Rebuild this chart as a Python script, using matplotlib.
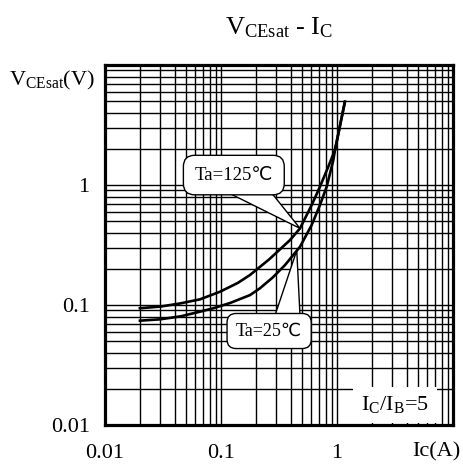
import numpy as np
import matplotlib
matplotlib.use('Agg')
import matplotlib.pyplot as plt
from matplotlib.ticker import FixedLocator, NullFormatter, LogLocator

plt.rcParams['font.family'] = ['Liberation Serif', 'DejaVu Sans']
plt.rcParams['mathtext.fontset'] = 'custom'
plt.rcParams['mathtext.rm'] = 'Liberation Serif'

# Ta = 125 C
ic_125 = [0.02, 0.03, 0.0443, 0.066, 0.098, 0.14, 0.178, 0.26, 0.394, 0.48, 0.605, 0.713, 0.841, 0.961, 1.17]
v_125 = [0.094, 0.097, 0.103, 0.1115, 0.129, 0.153, 0.178, 0.24, 0.348, 0.435, 0.681, 0.968, 1.42, 1.96, 4.94]

# Ta = 25 C
ic_25 = [0.02, 0.03, 0.045, 0.066, 0.086, 0.12, 0.178, 0.217, 0.28, 0.356, 0.48, 0.605, 0.713, 0.815, 0.929, 0.961, 1.17]
v_25 = [0.074, 0.076, 0.0805, 0.088, 0.094, 0.104, 0.121, 0.138, 0.17, 0.215, 0.306, 0.464, 0.681, 0.968, 1.61, 1.96, 4.94]

major_ticks = [0.01, 0.1, 1, 10]
major_labels = ['0.01', '0.1', '1', '']

fig = plt.figure(figsize=(4.63, 4.75), dpi=100)
ax = fig.add_axes([105/463, 1-425/475, 348/463, 360/475])

ax.set_xscale('log')
ax.set_yscale('log')
ax.set_xlim(0.01, 10)
ax.set_ylim(0.01, 10)

for axis in (ax.xaxis, ax.yaxis):
    axis.set_major_locator(FixedLocator(major_ticks))
    axis.set_minor_locator(LogLocator(base=10, subs=np.arange(2, 10)))
    axis.set_minor_formatter(NullFormatter())
ax.set_xticklabels(major_labels)
ax.set_yticklabels(major_labels)
ax.tick_params(which='both', length=0, labelsize=16)
ax.tick_params(axis='x', pad=14)
ax.tick_params(axis='y', pad=11)

ax.grid(which='both', color='black', lw=1.0)
ax.set_axisbelow(True)
for s in ax.spines.values():
    s.set_linewidth(2.3)

ax.plot(ic_125, v_125, color='black', lw=1.9, solid_joinstyle='round')
ax.plot(ic_25, v_25, color='black', lw=1.9, solid_joinstyle='round')

ax.annotate('Ta=125℃', xy=(0.48, 0.435), xytext=(0.129, 1.21), fontsize=13.5,
            ha='center', va='center',
            bbox=dict(boxstyle='round,pad=0.6', fc='white', ec='black', lw=1.0),
            arrowprops=dict(arrowstyle='wedge,tail_width=2.0', fc='white', ec='black',
                            lw=1.0, patchA=None, shrinkA=0, shrinkB=0))
ax.annotate('Ta=25℃', xy=(0.45, 0.285), xytext=(0.26, 0.0607), fontsize=13,
            ha='center', va='center',
            bbox=dict(boxstyle='round,pad=0.5', fc='white', ec='black', lw=1.0),
            arrowprops=dict(arrowstyle='wedge,tail_width=1.7', fc='white', ec='black',
                            lw=1.0, patchA=None, shrinkA=0, shrinkB=0, relpos=(0.75, 0.5)))

ax.text(0.833, 0.056, r'$\mathrm{I_C/I_B}$=5', transform=ax.transAxes, fontsize=16,
        ha='center', va='center',
        bbox=dict(boxstyle='square,pad=0.35', fc='white', ec='none'))

fig.text(279/463, 1-28/475, r'$\mathrm{V_{CEsat}}$ - $\mathrm{I_C}$', fontsize=19,
         ha='center', va='center')
fig.text(95/463, 1-80/475, r'$\mathrm{V_{CEsat}}$(V)', fontsize=16, ha='right', va='center')
fig.text(436/463, 1-452/475, 'Ic(A)', fontsize=16, ha='center', va='center')

plt.savefig('out.png', dpi=100)
